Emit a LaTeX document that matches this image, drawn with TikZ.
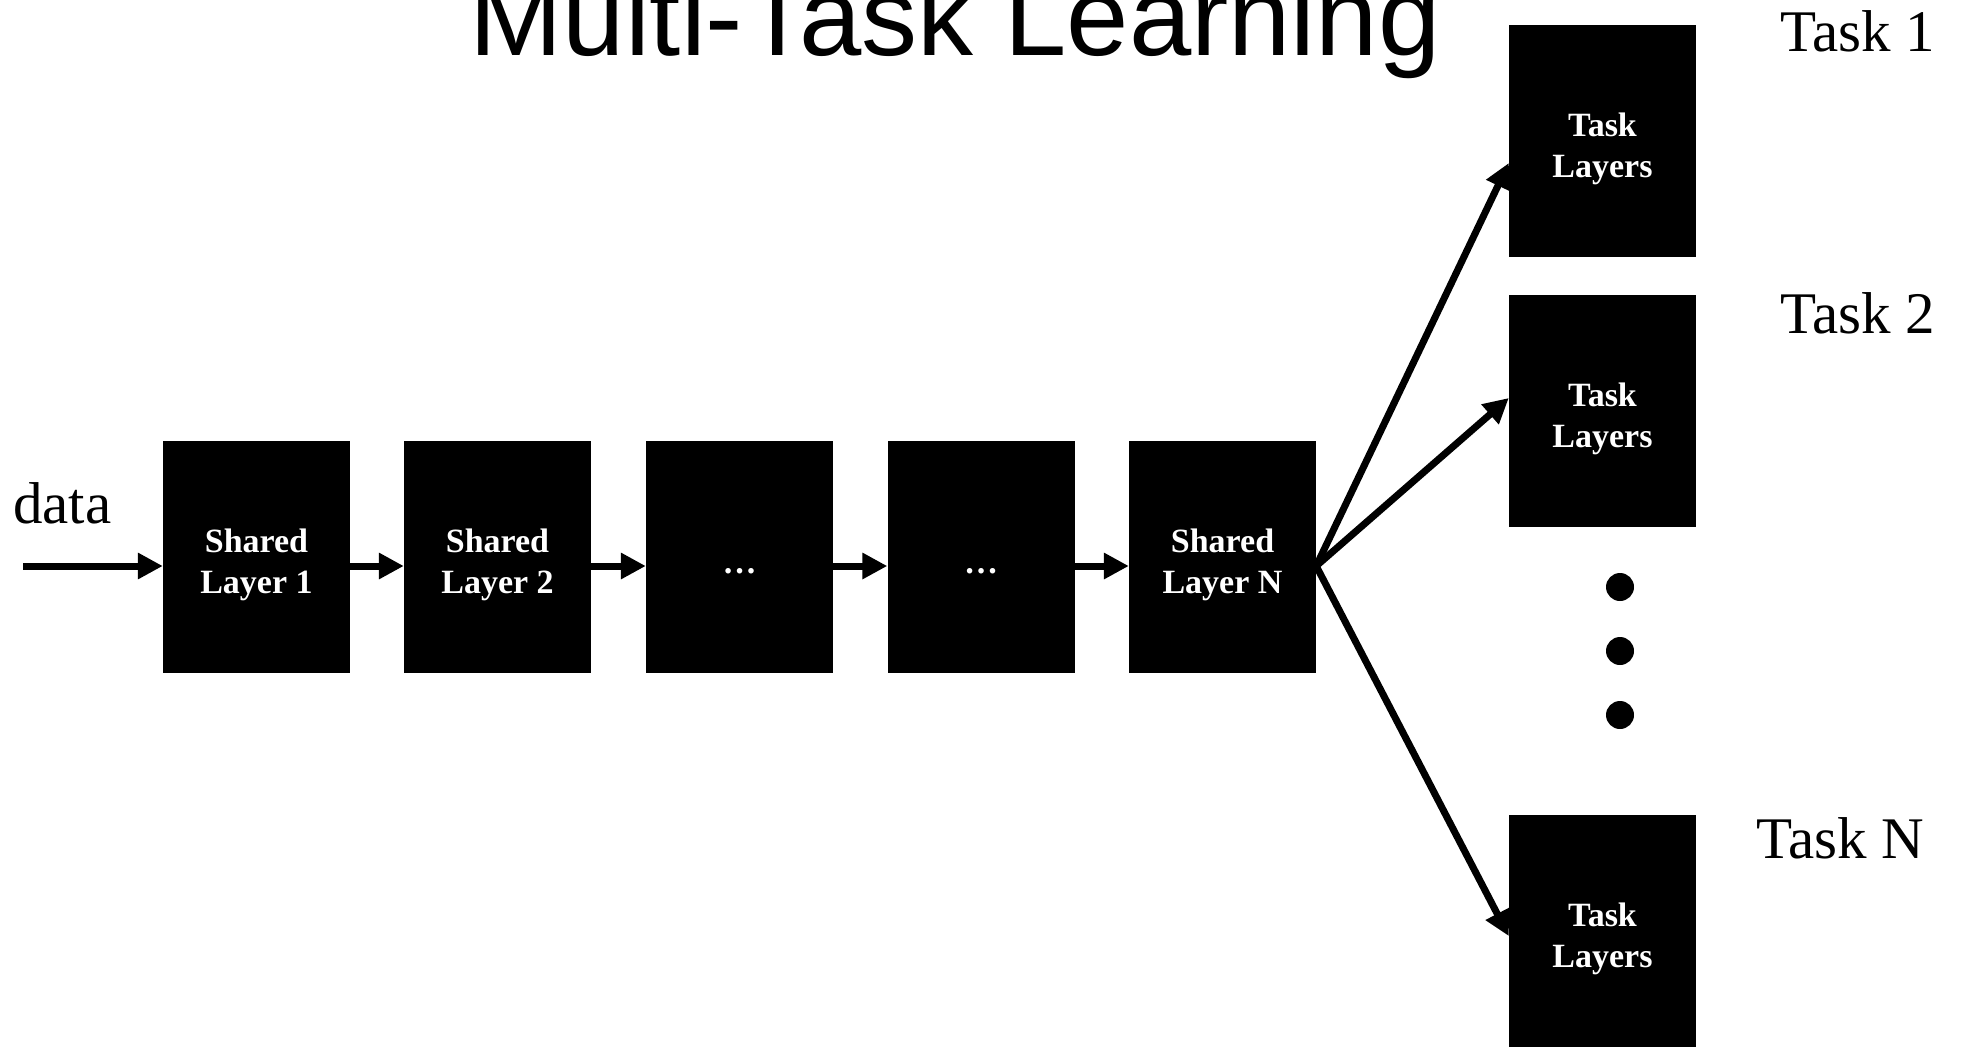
\documentclass[tikz,border=0pt]{standalone}
\usepackage{fontspec}
\setmainfont{Liberation Serif}
\newfontfamily\titlefont{Liberation Sans}
\usetikzlibrary{arrows.meta}

\tikzset{
  layerbox/.style={rectangle, fill=black, draw=none, inner sep=0pt,
    minimum width=187pt, minimum height=232pt},
  boxtext/.style={inner sep=0pt, text=white, align=center,
    font=\fontsize{34}{41}\selectfont\bfseries},
  flow/.style={line width=7pt, -{Triangle[length=25pt,width=25pt]}},
  sidelabel/.style={anchor=base west, inner sep=0pt,
    font=\fontsize{59}{59}\selectfont},
  moredot/.style={circle, fill=black, inner sep=0pt, minimum size=28pt}
}

\begin{document}
\begin{tikzpicture}[x=1pt, y=-1pt]
  \useasboundingbox (0,0) rectangle (1963,1047);
  \clip (0,0) rectangle (1963,1047);

  % title
  \node[anchor=base, inner sep=0pt, font=\titlefont\fontsize{112}{112}\selectfont]
    (title) at (955,55) {Multi-Task Learning};

  % shared trunk
  \node[layerbox] (s1) at (256.5,557) {};
  \node[layerbox] (s2) at (497.5,557) {};
  \node[layerbox] (s3) at (739.5,557) {};
  \node[layerbox] (s4) at (981,557)   {};
  \node[layerbox] (s5) at (1222.5,557) {};

  % task heads
  \node[layerbox] (t1) at (1602.5,141) {};
  \node[layerbox] (t2) at (1602.5,411) {};
  \node[layerbox] (tn) at (1602.5,931) {};

  % captions inside the boxes
  \node[boxtext] (s1c) at ([yshift=-8pt]s1.center) {Shared\\Layer 1};
  \node[boxtext] (s2c) at ([yshift=-8pt]s2.center) {Shared\\Layer 2};
  \node[boxtext] (s3c) at ([yshift=-14pt]s3.center) {…};
  \node[boxtext] (s4c) at ([yshift=-14pt]s4.center) {…};
  \node[boxtext] (s5c) at ([yshift=-8pt]s5.center) {Shared\\Layer N};
  \node[boxtext] (t1c) at ([yshift=-8pt]t1.center) {Task\\Layers};
  \node[boxtext] (t2c) at ([yshift=-8pt]t2.center) {Task\\Layers};
  \node[boxtext] (tnc) at ([yshift=-8pt]tn.center) {Task\\Layers};

  % omitted heads
  \node[moredot] (d1) at (1620,587) {};
  \node[moredot] (d2) at (1620,651) {};
  \node[moredot] (d3) at (1620,715) {};

  % labels
  \node[sidelabel] (data) at (13,523) {data};
  \node[sidelabel] (l1) at (1780,51)  {Task 1};
  \node[sidelabel] (l2) at (1780,333) {Task 2};
  \node[sidelabel] (ln) at (1756,858) {Task N};

  % input
  \coordinate (in) at (23,566);
  \draw[flow] (in) -- ([yshift=-9pt]s1.west);

  % trunk connections
  \draw[flow] ([yshift=-9pt]s1.east) -- ([yshift=-9pt]s2.west);
  \draw[flow] ([yshift=-9pt]s2.east) -- ([yshift=-9pt]s3.west);
  \draw[flow] ([yshift=-9pt]s3.east) -- ([yshift=-9pt]s4.west);
  \draw[flow] ([yshift=-9pt]s4.east) -- ([yshift=-9pt]s5.west);

  % branching to the task heads
  \draw[flow] ([yshift=-9pt]s5.east) -- ([yshift=-22pt]t1.west);
  \draw[flow] ([yshift=-9pt]s5.east) -- ([yshift=13pt]t2.west);
  \draw[flow] ([yshift=-9pt]s5.east) -- ([yshift=-5pt]tn.west);
\end{tikzpicture}
\end{document}
